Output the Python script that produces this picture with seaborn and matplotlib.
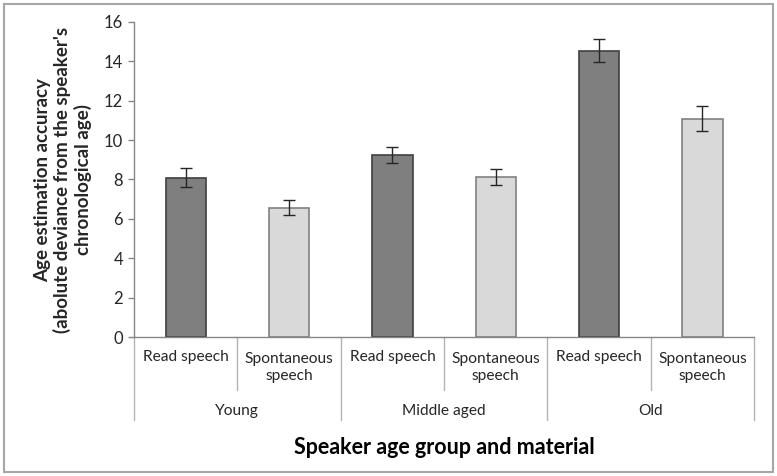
import pandas as pd
import matplotlib
matplotlib.use("Agg")
import matplotlib.pyplot as plt
import matplotlib.transforms as mtransforms
from matplotlib.patches import Rectangle
import seaborn as sns

# values
age_groups = ["Young", "Middle aged", "Old"]
materials = ["Read speech", "Spontaneous\nspeech"]
accuracy = [8.09, 6.57, 9.22, 8.14, 14.54, 11.09]
errors = [0.48, 0.39, 0.41, 0.40, 0.59, 0.64]
y_ticks = [0, 2, 4, 6, 8, 10, 12, 14, 16]

rows = []
for i, g in enumerate(age_groups):
    for j, m in enumerate(materials):
        rows.append({"cat": f"{g}|{m}", "group": g, "material": m,
                     "value": accuracy[i * 2 + j]})
df = pd.DataFrame(rows)

sns.set_style("white")
plt.rcParams["font.family"] = ["Lato", "DejaVu Sans"]

fig = plt.figure(figsize=(7.77, 4.76), dpi=100)
ax = fig.add_axes([0.1725, 0.292, 0.798, 0.662])

palette = {materials[0]: "#7f7f7f", materials[1]: "#d9d9d9"}
sns.barplot(data=df, x="cat", y="value", hue="material", palette=palette,
            dodge=False, width=0.39, legend=False, ax=ax, linewidth=1.2)

# bar edges: darker outline for dark bars
for p in ax.patches:
    fc = p.get_facecolor()
    p.set_edgecolor("#404040" if fc[0] < 0.6 else "#808080")

ax.errorbar(x=list(range(len(accuracy))), y=accuracy, yerr=errors,
            fmt="none", ecolor="#262626", elinewidth=1.0, capsize=4, capthick=1.0)

ax.set_ylim(0, 16)
ax.set_xlim(-0.5, 5.5)
ax.set_yticks(y_ticks)
ax.set_yticklabels([str(t) for t in y_ticks], fontsize=12, color="#262626")
ax.set_xticks([])
ax.set_xlabel("")
ax.set_ylabel("")
ax.tick_params(axis="y", length=4, width=1, color="#868686", left=True,
               direction="out", pad=4)

for s in ["top", "right"]:
    ax.spines[s].set_visible(False)
for s in ["left", "bottom"]:
    ax.spines[s].set_color("#868686")
    ax.spines[s].set_linewidth(1)

trans = mtransforms.blended_transform_factory(ax.transData, ax.transAxes)

# material labels
for k, row in df.iterrows():
    yy = -0.062 if "\n" not in row["material"] else -0.097
    ax.text(k, yy, row["material"], transform=trans, ha="center", va="center",
            fontsize=11.2, color="#262626", linespacing=1.3)

# group labels
for i, g in enumerate(age_groups):
    ax.text(i * 2 + 0.5, -0.235, g, transform=trans, ha="center", va="center",
            fontsize=11.2, color="#262626")

# separator lines of the multi-level category axis
for b in range(7):
    xb = b - 0.5
    bottom = -0.263 if b % 2 == 0 else -0.168
    ax.plot([xb, xb], [0, bottom], transform=trans, color="#b3b3b3",
            lw=1, clip_on=False)

ax.text(2.5, -0.35, "Speaker age group and material", transform=trans,
        ha="center", va="center", fontsize=15.5, fontweight="bold", color="#000000")

fig.text(0.081, 0.622,
         "Age estimation accuracy\n(abolute deviance from the speaker's\nchronological age)",
         rotation=90, ha="center", va="center", fontsize=13.5, fontweight="bold",
         linespacing=1.18)

fig.patches.append(Rectangle((0.005, 0.008), 0.99, 0.984, transform=fig.transFigure,
                             fill=False, edgecolor="#a6a6a6", lw=1.5))

fig.savefig("out.png", dpi=100)
